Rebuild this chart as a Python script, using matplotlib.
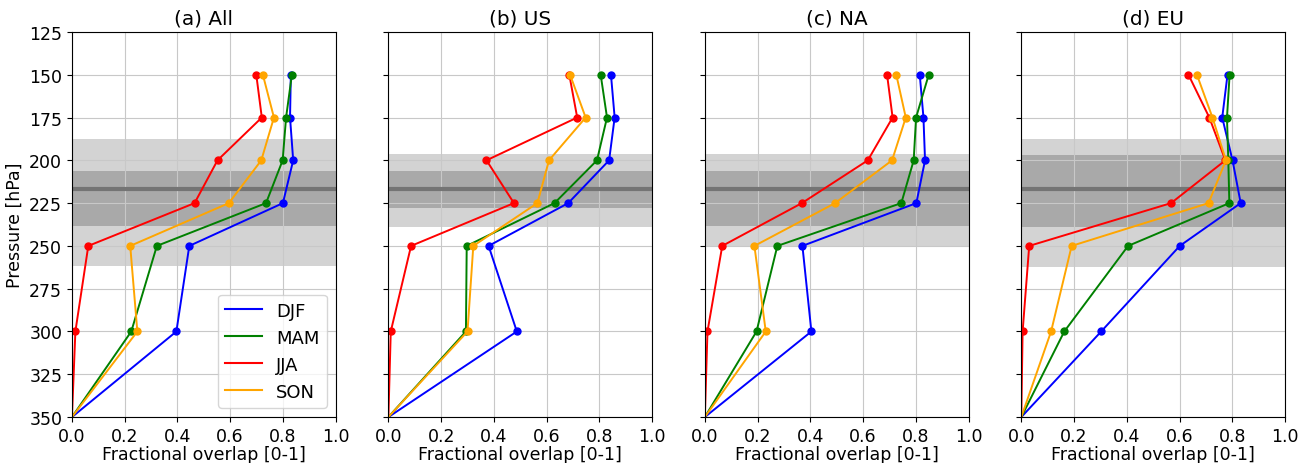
import matplotlib
matplotlib.use("Agg")
import matplotlib.pyplot as plt

pressure = [150, 175, 200, 225, 250, 300, 350]
seasons = ["DJF", "MAM", "JJA", "SON"]
colors = ["blue", "green", "red", "orange"]
titles = ["(a) All", "(b) US", "(c) NA", "(d) EU"]

# fractional overlap per region, per season (150 ... 350 hPa)
overlap_all = {
    "DJF": [0.83, 0.827, 0.839, 0.80, 0.445, 0.396, 0.0],
    "MAM": [0.834, 0.812, 0.799, 0.736, 0.322, 0.225, 0.0],
    "JJA": [0.699, 0.72, 0.552, 0.465, 0.062, 0.013, 0.0],
    "SON": [0.724, 0.766, 0.718, 0.595, 0.221, 0.248, 0.0],
}
overlap_us = {
    "DJF": [0.844, 0.858, 0.837, 0.682, 0.380, 0.487, 0.0],
    "MAM": [0.805, 0.829, 0.791, 0.630, 0.297, 0.294, 0.0],
    "JJA": [0.686, 0.716, 0.372, 0.476, 0.086, 0.009, 0.0],
    "SON": [0.689, 0.748, 0.609, 0.565, 0.322, 0.300, 0.0],
}
overlap_na = {
    "DJF": [0.815, 0.829, 0.835, 0.802, 0.370, 0.404, 0.0],
    "MAM": [0.849, 0.801, 0.792, 0.745, 0.275, 0.196, 0.0],
    "JJA": [0.691, 0.712, 0.618, 0.368, 0.066, 0.010, 0.0],
    "SON": [0.726, 0.762, 0.710, 0.494, 0.188, 0.231, 0.0],
}
overlap_eu = {
    "DJF": [0.782, 0.762, 0.801, 0.832, 0.601, 0.303, 0.0],
    "MAM": [0.790, 0.780, 0.785, 0.789, 0.405, 0.163, 0.0],
    "JJA": [0.634, 0.713, 0.774, 0.568, 0.030, 0.005, 0.0],
    "SON": [0.666, 0.725, 0.776, 0.710, 0.191, 0.113, 0.0],
}
regions = [overlap_all, overlap_us, overlap_na, overlap_eu]

# tropopause pressure: outer range, inner range, mean line (hPa)
trop_outer = [(187.5, 262.0), (196.3, 238.8), (196.3, 250.5), (187.5, 262.5)]
trop_inner = [(206.0, 238.6), (206.4, 228.0), (206.4, 238.6), (196.7, 238.8)]
trop_mean = [216.8, 216.8, 216.8, 216.8]

plt.rcParams["font.size"] = 12

fig, axes = plt.subplots(1, 4, figsize=(13.01, 4.64), dpi=100, sharey=True)
fig.subplots_adjust(left=0.0553, right=0.9877, top=0.929, bottom=0.099, wspace=0.2)

for i, ax in enumerate(axes):
    ax.axhspan(*trop_outer[i], color="#d3d3d3", lw=0)
    ax.axhspan(*trop_inner[i], color="#a9a9a9", lw=0)
    ax.axhline(trop_mean[i], color="#747474", lw=3)
    data = regions[i]
    for s, c in zip(seasons, colors):
        ax.plot(data[s], pressure, color=c, lw=1.4, marker="o", ms=5,
                markevery=list(range(len(pressure) - 1)))
    ax.set_xlim(0, 1)
    ax.set_ylim(350, 125)
    ax.set_yticks(range(125, 351, 25))
    ax.set_xticks([0, 0.2, 0.4, 0.6, 0.8, 1.0])
    ax.tick_params(labelsize=12.5)
    ax.grid(True, color="#c8c8c8")
    ax.set_title(titles[i])
    ax.set_xlabel("Fractional overlap [0-1]", fontsize=12.5, labelpad=0)

axes[0].set_ylabel("Pressure [hPa]", fontsize=12.5)

handles = [plt.Line2D([], [], color=c, lw=1.5) for c in colors]
axes[0].legend(handles, seasons, loc="lower right", fontsize=13)

fig.savefig("out.png", dpi=100)
